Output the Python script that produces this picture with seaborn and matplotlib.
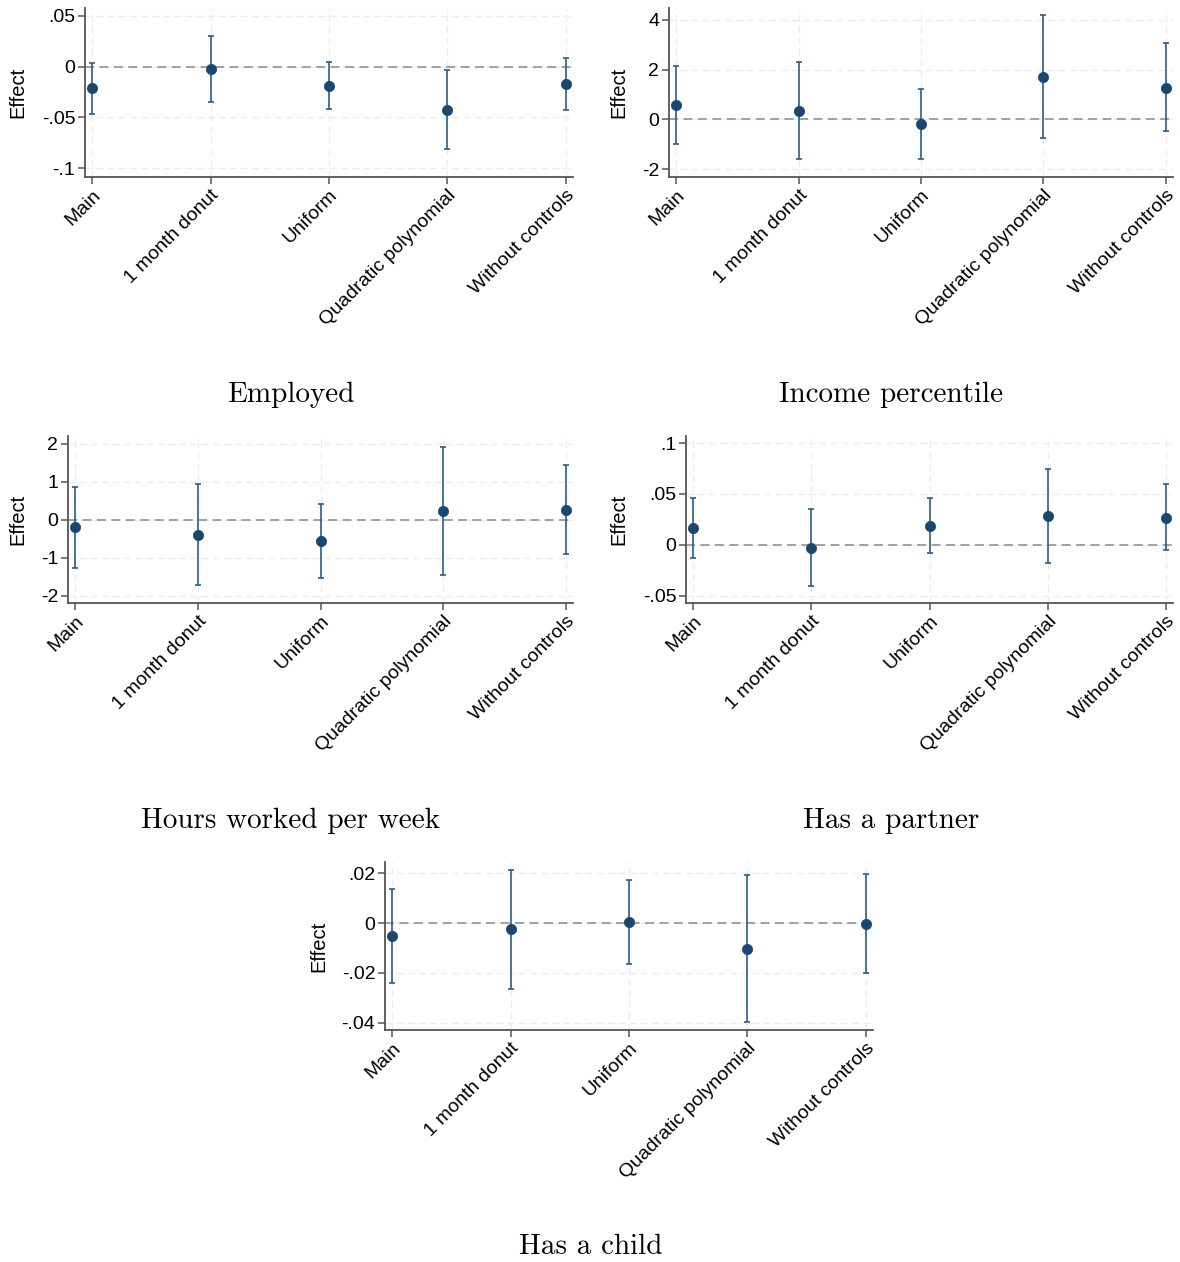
import numpy as np
import matplotlib
matplotlib.use('Agg')
import matplotlib.pyplot as plt
import matplotlib.transforms as mtransforms
import seaborn as sns

sns.set_style('white')
plt.rcParams['font.family'] = ['Liberation Sans', 'DejaVu Sans']
plt.rcParams['text.color'] = 'black'
plt.rcParams['axes.labelcolor'] = 'black'
plt.rcParams['xtick.color'] = 'black'
plt.rcParams['ytick.color'] = 'black'

specs = ['Main', '1 month donut', 'Uniform', 'Quadratic polynomial', 'Without controls']

# point estimates and 95% CI bounds
employed_coef = [-0.0214, -0.0023, -0.0190, -0.0428, -0.0174]
employed_lo = [-0.0470, -0.0345, -0.0418, -0.0813, -0.0431]
employed_hi = [0.0039, 0.0303, 0.0046, -0.0036, 0.0082]

income_coef = [0.58, 0.35, -0.20, 1.71, 1.28]
income_lo = [-1.00, -1.58, -1.59, -0.74, -0.48]
income_hi = [2.13, 2.29, 1.21, 4.19, 3.06]

hours_coef = [-0.20, -0.39, -0.57, 0.23, 0.26]
hours_lo = [-1.28, -1.71, -1.52, -1.45, -0.90]
hours_hi = [0.86, 0.94, 0.40, 1.92, 1.43]

partner_coef = [0.0163, -0.0033, 0.0189, 0.0280, 0.0267]
partner_lo = [-0.0133, -0.0410, -0.0078, -0.0182, -0.0052]
partner_hi = [0.0462, 0.0351, 0.0462, 0.0742, 0.0595]

child_coef = [-0.0052, -0.0025, 0.0003, -0.0103, -0.0003]
child_lo = [-0.0240, -0.0264, -0.0166, -0.0398, -0.0202]
child_hi = [0.0138, 0.0214, 0.0174, 0.0192, 0.0198]

titles = ['Employed', 'Income percentile', 'Hours worked per week', 'Has a partner', 'Has a child']
yticks = [[-0.1, -0.05, 0, 0.05], [-2, 0, 2, 4], [-2, -1, 0, 1, 2],
          [-0.05, 0, 0.05, 0.1], [-0.04, -0.02, 0, 0.02]]
yticklabels = [['-.1', '-.05', '0', '.05'], ['-2', '0', '2', '4'], ['-2', '-1', '0', '1', '2'],
               ['-.05', '0', '.05', '.1'], ['-.04', '-.02', '0', '.02']]

W, H = 1180, 1262
# panel boxes in pixels: left, right, top, bottom, ylabel x, title centre
boxes = [
    (85, 573, 8, 177, 18, (291, 395)),
    (669, 1173, 8, 177, 619, (891, 395)),
    (68, 573, 436, 603, 18, (291, 821)),
    (686, 1173, 436, 603, 619, (891, 821)),
    (385, 873, 862, 1030, 319, (591, 1247)),
]
ylims = [(-0.1086, 0.0576), (-2.32, 4.48), (-2.19, 2.2), (-0.0573, 0.107), (-0.043, 0.0246)]

data = [
    (employed_coef, employed_lo, employed_hi),
    (income_coef, income_lo, income_hi),
    (hours_coef, hours_lo, hours_hi),
    (partner_coef, partner_lo, partner_hi),
    (child_coef, child_lo, child_hi),
]

navy = '#1a476f'
bar_col = '#2d5c88'

fig = plt.figure(figsize=(W / 100, H / 100), dpi=100)
fig.patch.set_facecolor('white')
shift = mtransforms.ScaledTranslation(5 / 100, 0, fig.dpi_scale_trans)

for k, (coef, lo, hi) in enumerate(data):
    l, r, t, b, ylab_x, (tx, ty) = boxes[k]
    ax = fig.add_axes([l / W, 1 - b / H, (r - l) / W, (b - t) / H])
    pos = np.arange(len(specs))
    coef = np.array(coef)
    lo = np.array(lo)
    hi = np.array(hi)

    ax.axhline(0, color='#9a9a9a', ls=(0, (5, 3)), lw=1.3, zorder=1)
    ax.errorbar(pos, coef, yerr=[coef - lo, hi - coef], fmt='none',
                ecolor=bar_col, elinewidth=1.2, capsize=2.2, capthick=1.2, zorder=2)
    sns.scatterplot(x=pos, y=coef, ax=ax, color=navy, s=55, edgecolor=navy,
                    linewidth=0.5, zorder=3)

    ax.set_xlim(-0.06, 4.06)
    ax.set_ylim(*ylims[k])
    ax.set_xticks(pos)
    ax.set_xticklabels(specs, rotation=45, ha='right', rotation_mode='anchor', fontsize=14)
    for lab in ax.get_xticklabels():
        lab.set_transform(lab.get_transform() + shift)
    ax.set_yticks(yticks[k])
    ax.set_yticklabels(yticklabels[k], fontsize=14)
    ax.grid(True, color='#ececec', ls=(0, (5, 3)), lw=1.0)
    ax.set_axisbelow(True)
    for s in ['top', 'right']:
        ax.spines[s].set_visible(False)
    for s in ['left', 'bottom']:
        ax.spines[s].set_color('#555555')
        ax.spines[s].set_linewidth(1.3)
    ax.tick_params(axis='both', which='major', length=5, width=1.1, color='#555555',
                   labelcolor='black', pad=2, left=True, bottom=True)

    ax.set_ylabel('Effect', fontsize=14.5)
    trans = mtransforms.blended_transform_factory(fig.transFigure, ax.transAxes)
    ax.yaxis.set_label_coords(ylab_x / W, 0.5, transform=trans)
    ax.yaxis.label.set_verticalalignment('center')

    fig.text(tx / W, 1 - ty / H, titles[k], ha='center', va='center', color='black',
             family=['cmr10', 'DejaVu Serif'], fontsize=21)

fig.savefig('out.png', dpi=100, facecolor='white')
